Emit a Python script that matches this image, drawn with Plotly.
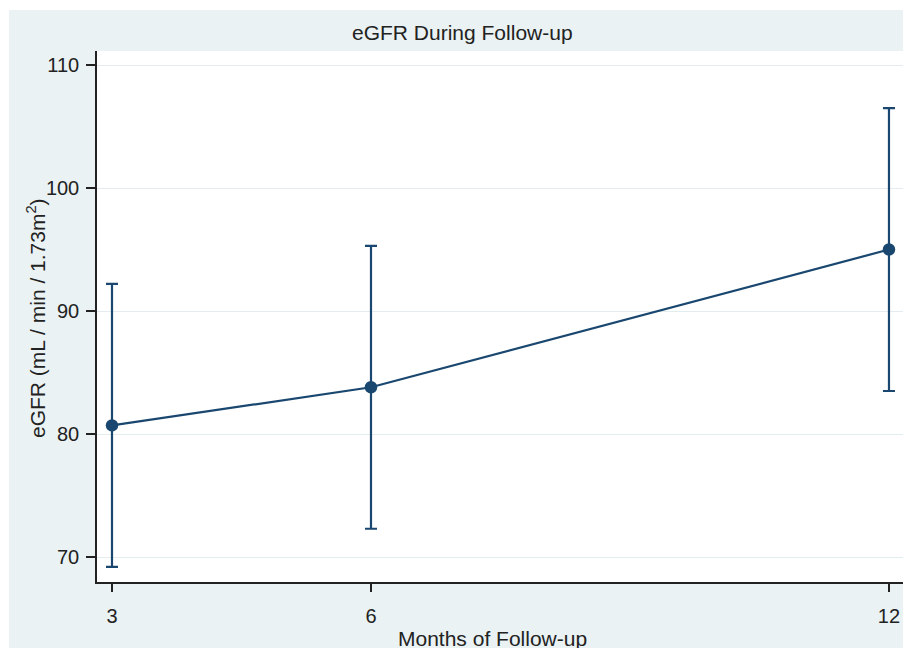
import plotly.graph_objects as go

# ---- data ----
months = [3, 6, 12]
egfr_mean = [80.7, 83.8, 95.0]
ci_upper = [92.2, 95.3, 106.5]
ci_lower = [69.2, 72.3, 83.5]
x_ticks = [3, 6, 12]
y_ticks = [70, 80, 90, 100, 110]

title_text = "eGFR During Follow-up"
x_title = "Months of Follow-up"
y_title = "eGFR (mL / min / 1.73m<sup>2</sup>)"

err_plus = [u - m for u, m in zip(ci_upper, egfr_mean)]
err_minus = [m - l for m, l in zip(egfr_mean, ci_lower)]

NAVY = "#1A476F"
BG = "#EAF2F3"
TXT = "#222222"
FONT = "Liberation Sans, Arial, sans-serif"

W, H = 903, 648
L, R, T, B = 97, 0, 51, 66
pw, ph = W - L - R, H - T - B


def px_x(px):
    return (px - L) / pw


def px_y(py):
    return (H - B - py) / ph


fig = go.Figure()
fig.add_trace(go.Scatter(
    x=months, y=egfr_mean, mode="lines+markers",
    line=dict(color=NAVY, width=2.2),
    marker=dict(color=NAVY, size=12.5),
    error_y=dict(type="data", array=err_plus, arrayminus=err_minus,
                 color=NAVY, thickness=2.2, width=6, visible=True),
    showlegend=False,
))

fig.update_layout(
    width=W, height=H,
    margin=dict(l=L, r=R, t=T, b=B, pad=0),
    paper_bgcolor=BG, plot_bgcolor="white",
    font=dict(family=FONT, size=20, color=TXT),
    shapes=[
        dict(type="rect", xref="paper", yref="paper", layer="below",
             x0=-0.3, x1=1.3, y0=px_y(10), y1=1.3,
             fillcolor="white", line=dict(width=0)),
        dict(type="rect", xref="paper", yref="paper", layer="below",
             x0=-0.3, x1=px_x(9), y0=-0.3, y1=1.3,
             fillcolor="white", line=dict(width=0)),
    ],
    annotations=[
        dict(text=title_text, xref="paper", yref="paper",
             x=px_x(462), y=px_y(32), xanchor="center", yanchor="middle",
             showarrow=False, font=dict(size=21, color=TXT)),
        dict(text=x_title, xref="paper", yref="paper",
             x=px_x(492.5), y=px_y(638), xanchor="center", yanchor="middle",
             showarrow=False, font=dict(size=21, color=TXT)),
        dict(text=y_title, xref="paper", yref="paper", textangle=-90,
             x=px_x(36), y=px_y(318), xanchor="center", yanchor="middle",
             showarrow=False, font=dict(size=21, color=TXT)),
    ],
)

fig.update_xaxes(
    range=[3 - 15 / 86.33, 3 + (W - 112) / 86.33],
    tickmode="array", tickvals=x_ticks, ticktext=[str(v) for v in x_ticks],
    showgrid=False, zeroline=False,
    showline=True, linecolor=TXT, linewidth=1.5,
    ticks="outside", ticklen=8, tickwidth=1.5, tickcolor=TXT,
    ticklabelstandoff=7, automargin=False,
    tickfont=dict(size=20, color=TXT),
)
fig.update_yaxes(
    range=[67.97, 111.14],
    tickmode="array", tickvals=y_ticks, ticktext=[str(v) for v in y_ticks],
    showgrid=True, gridcolor="#E3EDEF", gridwidth=1, zeroline=False,
    showline=True, linecolor=TXT, linewidth=1.5,
    ticks="outside", ticklen=9, tickwidth=1.5, tickcolor=TXT,
    ticklabelstandoff=3, automargin=False,
    tickfont=dict(size=20, color=TXT),
)

fig.write_html(
    "out.html",
    config={"displayModeBar": False},
    post_script="document.body.style.margin='0';document.body.style.overflow='hidden';",
)
